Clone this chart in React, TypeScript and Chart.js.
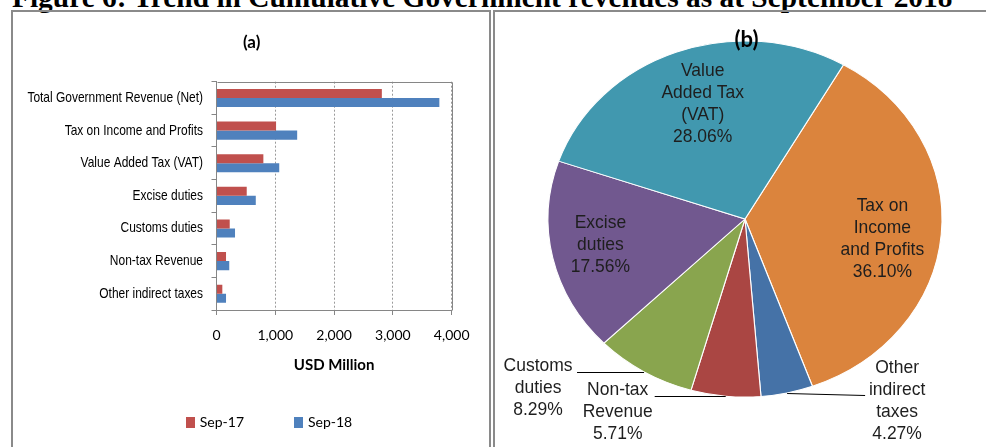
import React, { useEffect, useRef } from 'react';
import { Chart, registerables } from 'chart.js';

Chart.register(...registerables);

// ---------- data ----------
const categories = [
  'Total Government Revenue (Net)',
  'Tax on Income and Profits',
  'Value Added Tax (VAT)',
  'Excise duties',
  'Customs duties',
  'Non-tax Revenue',
  'Other indirect taxes',
];
const seriesNames = ['Sep-17', 'Sep-18'];
const sep17 = [2812, 1013, 797, 514, 225, 162, 99];
const sep18 = [3790, 1372, 1067, 668, 315, 217, 162];
const xTicks = [0, 1000, 2000, 3000, 4000];

const pieCategories = [
  'Tax on Income and Profits',
  'Other indirect taxes',
  'Non-tax Revenue',
  'Customs duties',
  'Excise duties',
  'Value Added Tax (VAT)',
];
const pieLabelLines = [
  ['Tax on', 'Income', 'and Profits'],
  ['Other', 'indirect', 'taxes'],
  ['Non-tax', 'Revenue'],
  ['Customs', 'duties'],
  ['Excise', 'duties'],
  ['Value', 'Added Tax', '(VAT)'],
];
const pieShares = [36.1, 4.27, 5.71, 8.29, 17.56, 28.06];

// ---------- styles ----------
const AXIS_GRAY = '#868686';
const barColors = ['#C0504D', '#4F81BD'];
const pieColors = ['#DB843D', '#4572A7', '#AA4643', '#89A54E', '#71588F', '#4198AF'];
const PIE_RY = 178;
const PIE_RX = 197;
// label placement per slice: inside (radial factor + nudge) or outside with leader line
const piePlacement: any[] = [
  { mode: 'in', f: 0.7, dx: 0, dy: 9 },
  { mode: 'out', lx: 78, ly: 2, tx: 110, ty: -25 },
  { mode: 'out', lx: -71, ly: 0, tx: -108, ty: -6 },
  { mode: 'out', lx: -67, ly: 0, tx: -106, ty: -6 },
  { mode: 'in', f: 0.7, dx: -10, dy: -1 },
  { mode: 'in', f: 0.7, dx: 6, dy: 2 },
];
const PIE_FONT = '18.6px "Liberation Sans", Arial, sans-serif';
const PIE_SQUEEZE = 0.94;
const PIE_LINE = 22;
const LEGEND_FONT = '14px Lato, sans-serif';
const CAT_FONT = '14.6px "Liberation Sans", Arial, sans-serif';
const CAT_SQUEEZE = 0.82;

const plotFrame = {
  id: 'plotFrame',
  beforeDatasetsDraw(chart: any) {
    const { ctx, chartArea: a } = chart;
    ctx.save();
    ctx.strokeStyle = AXIS_GRAY;
    ctx.lineWidth = 1;
    const l = Math.round(a.left) + 0.5;
    const t = Math.round(a.top) + 0.5;
    const r = Math.round(a.right) + 0.5;
    const b = Math.round(a.bottom) + 0.5;
    ctx.beginPath();
    ctx.moveTo(l, t);
    ctx.lineTo(r, t);
    ctx.lineTo(r, b);
    ctx.stroke();
    ctx.restore();
  },
};

// category labels drawn in a narrow (condensed) style at the y scale's tick positions
const narrowCategoryLabels = {
  id: 'narrowCategoryLabels',
  afterDraw(chart: any) {
    const { ctx } = chart;
    const yScale = chart.scales.y;
    ctx.save();
    ctx.font = CAT_FONT;
    ctx.fillStyle = '#000';
    ctx.textAlign = 'right';
    ctx.textBaseline = 'middle';
    const xRight = yScale.right - 13.5;
    chart.data.labels.forEach((label: string, i: number) => {
      const y = yScale.getPixelForTick(i);
      ctx.save();
      ctx.translate(xRight, y);
      ctx.scale(CAT_SQUEEZE, 1);
      ctx.fillText(label, 0, 0);
      ctx.restore();
    });
    ctx.restore();
  },
};

// legend below the axis title, built from the datasets
const barLegend = {
  id: 'barLegend',
  afterDraw(chart: any) {
    const { ctx, chartArea: a } = chart;
    const items = chart.data.datasets.map((ds: any) => ({ text: ds.label, color: ds.backgroundColor }));
    ctx.save();
    ctx.font = LEGEND_FONT;
    ctx.textBaseline = 'middle';
    ctx.textAlign = 'left';
    const box = 9;
    const gap = 5;
    const spacing = 50;
    const widths = items.map((it: any) => box + gap + ctx.measureText(it.text).width);
    const total = widths.reduce((s: number, w: number) => s + w, 0) + spacing * (items.length - 1);
    let x = a.left + 52.5 - total / 2;
    const y = a.bottom + 112;
    items.forEach((it: any, i: number) => {
      ctx.fillStyle = it.color;
      ctx.fillRect(Math.round(x), Math.round(y - 5.5), box, 11);
      ctx.fillStyle = '#000';
      ctx.fillText(it.text, x + box + gap, y);
      x += widths[i] + spacing;
    });
    ctx.restore();
  },
};

const ellipsePlugin = {
  id: 'ellipse',
  beforeDatasetsDraw(chart: any) {
    const arc = chart.getDatasetMeta(0).data[0];
    const ctx = chart.ctx;
    ctx.save();
    ctx.translate(arc.x, arc.y);
    ctx.scale(PIE_RX / PIE_RY, 1);
    ctx.translate(-arc.x, -arc.y);
  },
  afterDatasetsDraw(chart: any) {
    chart.ctx.restore();
  },
};

const pieLabelPlugin = {
  id: 'pieLabels',
  afterDraw(chart: any) {
    const ctx = chart.ctx;
    const sx = PIE_RX / PIE_RY;
    const values = chart.data.datasets[0].data;
    const text = (t: string, tx: number, ty: number) => {
      ctx.save();
      ctx.translate(tx, ty);
      ctx.scale(PIE_SQUEEZE, 1);
      ctx.fillText(t, 0, 0);
      ctx.restore();
    };
    ctx.save();
    ctx.font = PIE_FONT;
    ctx.fillStyle = '#1e1e1e';
    ctx.textAlign = 'center';
    ctx.textBaseline = 'middle';
    chart.getDatasetMeta(0).data.forEach((arc: any, i: number) => {
      const { x, y, startAngle, endAngle, outerRadius } = arc.getProps(
        ['x', 'y', 'startAngle', 'endAngle', 'outerRadius'],
        true
      );
      const mid = (startAngle + endAngle) / 2;
      const lines = [...pieLabelLines[i], Number(values[i]).toFixed(2) + '%'];
      const p = piePlacement[i];
      if (p.mode === 'in') {
        const cx = x + Math.cos(mid) * outerRadius * p.f * sx + p.dx;
        const cy = y + Math.sin(mid) * outerRadius * p.f + p.dy;
        lines.forEach((t: string, k: number) => {
          text(t, cx, cy + (k - (lines.length - 1) / 2) * PIE_LINE);
        });
      } else {
        const ex = x + Math.cos(mid) * outerRadius * sx;
        const ey = y + Math.sin(mid) * outerRadius;
        ctx.strokeStyle = '#000';
        ctx.lineWidth = 1;
        ctx.beginPath();
        ctx.moveTo(ex, Math.round(ey) + 0.5);
        ctx.lineTo(ex + p.lx, Math.round(ey + p.ly) + 0.5);
        ctx.stroke();
        lines.forEach((t: string, k: number) => {
          text(t, ex + p.tx, ey + p.ty + k * PIE_LINE);
        });
      }
    });
    ctx.restore();
  },
};

function BarChart() {
  const ref = useRef<HTMLCanvasElement>(null);
  useEffect(() => {
    const chart = new Chart(ref.current as HTMLCanvasElement, {
      type: 'bar',
      data: {
        labels: categories,
        datasets: [
          { label: seriesNames[0], data: sep17, backgroundColor: barColors[0], categoryPercentage: 0.555, barPercentage: 1 },
          { label: seriesNames[1], data: sep18, backgroundColor: barColors[1], categoryPercentage: 0.555, barPercentage: 1 },
        ],
      },
      options: {
        indexAxis: 'y',
        responsive: false,
        animation: false,
        layout: { padding: { left: 0, right: 37.3, top: 69.7, bottom: 82 } },
        scales: {
          x: {
            min: 0,
            max: 4000,
            afterBuildTicks: (s: any) => {
              s.ticks = xTicks.map((v) => ({ value: v }));
            },
            afterFit: (s: any) => {
              s.height = 55;
            },
            ticks: {
              font: { family: 'Lato', size: 14 },
              color: '#000',
              padding: 11.6,
              callback: (v: any) => Number(v).toLocaleString('en-US'),
            },
            grid: { color: '#9a9a9a', tickColor: AXIS_GRAY, tickLength: 5, tickBorderDash: [] },
            border: { display: true, color: AXIS_GRAY, dash: [2, 2] },
            title: {
              display: true,
              text: 'USD Million',
              color: '#000',
              font: { family: 'Lato', size: 15, weight: 'bold' },
              padding: { top: 0, bottom: -9.5 },
            },
          },
          y: {
            afterFit: (s: any) => {
              s.width = 203.5;
            },
            grid: { drawOnChartArea: false, tickLength: 5, color: AXIS_GRAY, offset: true },
            border: { color: AXIS_GRAY },
            ticks: { display: false },
          },
        },
        plugins: {
          legend: { display: false },
          tooltip: { enabled: false },
        },
      } as any,
      plugins: [plotFrame, narrowCategoryLabels, barLegend],
    });
    return () => chart.destroy();
  }, []);
  return (
    <canvas
      ref={ref}
      width={476}
      height={435}
      style={{ position: 'absolute', left: 13, top: 12, width: 476, height: 435 }}
    />
  );
}

function PieChart() {
  const ref = useRef<HTMLCanvasElement>(null);
  useEffect(() => {
    const chart = new Chart(ref.current as HTMLCanvasElement, {
      type: 'pie',
      data: {
        labels: pieCategories,
        datasets: [
          {
            data: pieShares,
            backgroundColor: pieColors,
            borderColor: '#ffffff',
            borderWidth: 1,
          },
        ],
      },
      options: {
        responsive: false,
        animation: false,
        rotation: 30,
        radius: PIE_RY,
        layout: { padding: { bottom: 26 } },
        plugins: { legend: { display: false }, tooltip: { enabled: false } },
      } as any,
      plugins: [ellipsePlugin, pieLabelPlugin],
    });
    return () => chart.destroy();
  }, []);
  return (
    <canvas
      ref={ref}
      width={500}
      height={440}
      style={{ position: 'absolute', left: 495, top: 12, width: 500, height: 440 }}
    />
  );
}

export default function App() {
  return (
    <div
      style={{
        position: 'fixed',
        left: 0,
        top: 0,
        width: 986,
        height: 447,
        overflow: 'hidden',
        background: '#fff',
      }}
    >
      <div
        style={{
          position: 'absolute',
          left: 12,
          top: -17.5,
          fontFamily: '"Liberation Serif", "Times New Roman", serif',
          fontWeight: 'bold',
          fontSize: 29.4,
          lineHeight: '29.4px',
          whiteSpace: 'nowrap',
          color: '#000',
        }}
      >
        Figure 6: Trend in Cumulative Government revenues as at September 2018
      </div>
      <div
        style={{
          position: 'absolute',
          left: 11,
          top: 10,
          width: 480,
          height: 460,
          boxSizing: 'border-box',
          border: '2px solid #8a8a8a',
        }}
      />
      <div
        style={{
          position: 'absolute',
          left: 493,
          top: 10,
          width: 600,
          height: 460,
          boxSizing: 'border-box',
          border: '2px solid #8a8a8a',
        }}
      />
      <BarChart />
      <PieChart />
      <div
        style={{
          position: 'absolute',
          left: 201.7,
          top: 32,
          width: 100,
          textAlign: 'center',
          fontFamily: 'Lato, sans-serif',
          fontWeight: 'bold',
          fontSize: 17,
          lineHeight: '20px',
          color: '#000',
        }}
      >
        (a)
      </div>
      <div
        style={{
          position: 'absolute',
          left: 696.5,
          top: 26,
          width: 100,
          textAlign: 'center',
          fontFamily: 'Lato, sans-serif',
          fontWeight: 'bold',
          fontSize: 22,
          lineHeight: '26px',
          color: '#000',
        }}
      >
        (b)
      </div>
    </div>
  );
}
